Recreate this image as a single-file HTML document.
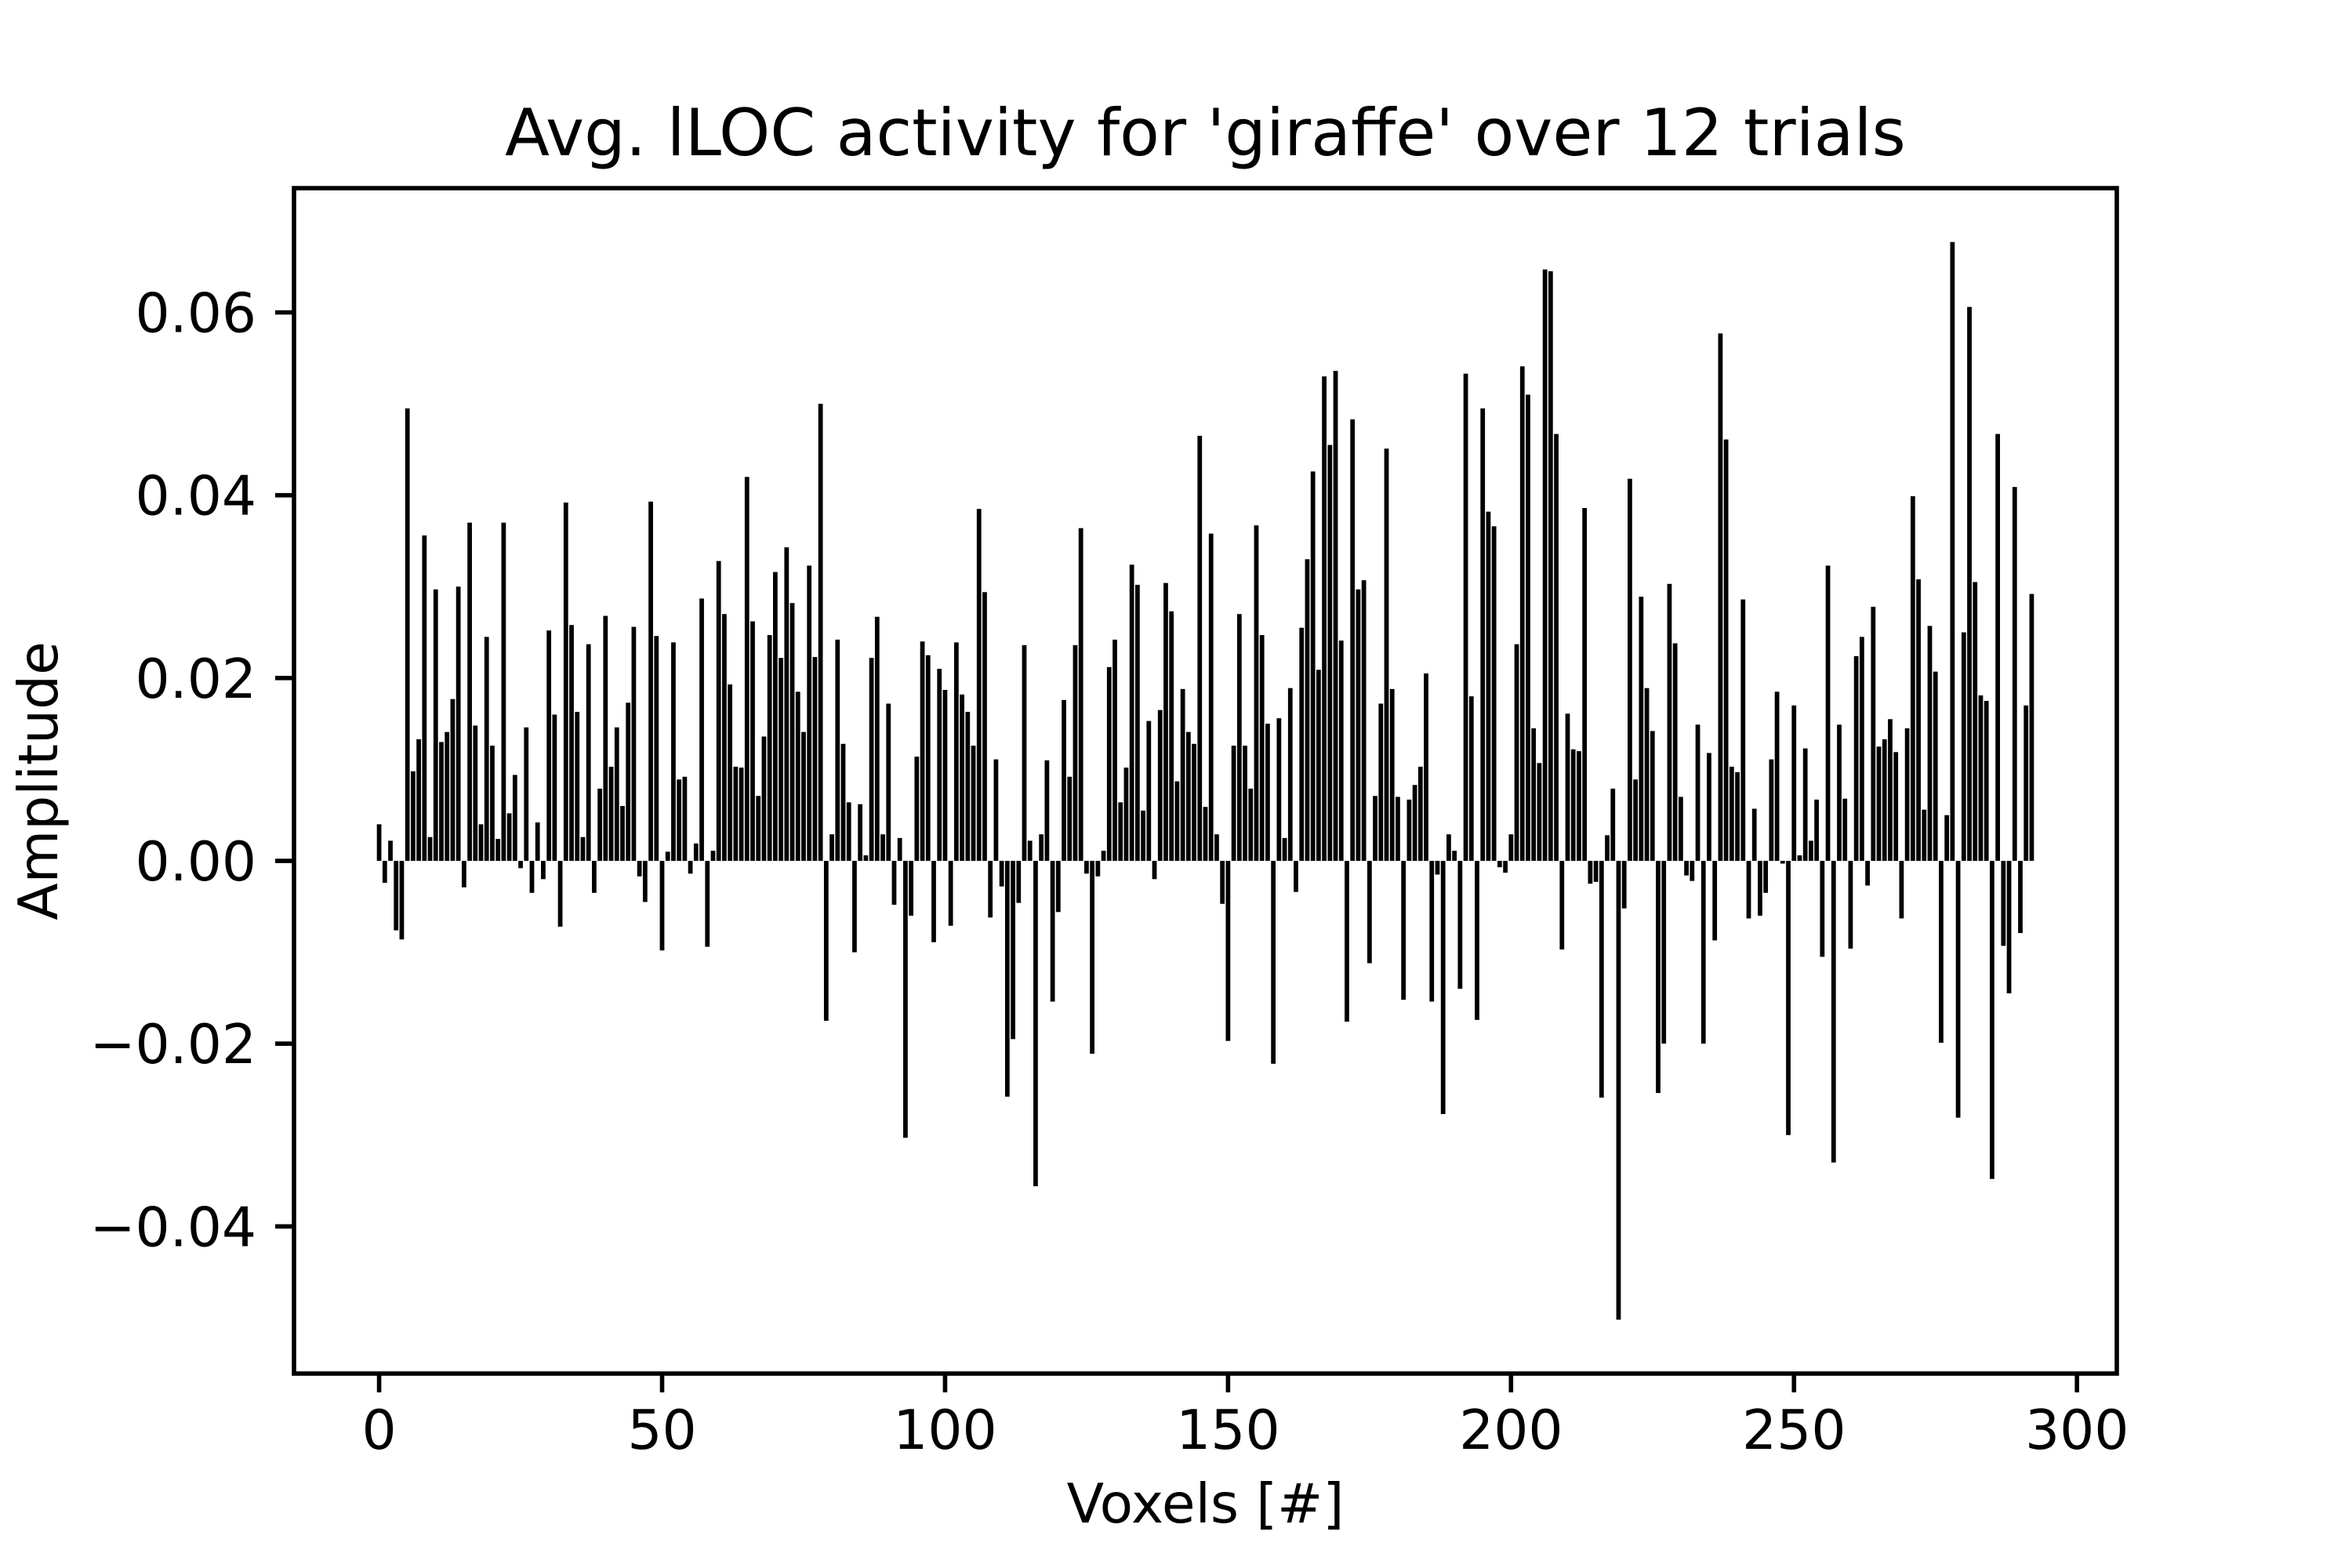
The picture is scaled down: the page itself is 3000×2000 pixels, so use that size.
<!DOCTYPE html>
<html><head><meta charset="utf-8"><style>
html,body{margin:0;padding:0;background:#fff;}
svg{display:block;font-family:"DejaVu Sans","Liberation Sans",sans-serif;}
</style></head><body>
<svg id="chart" width="3000" height="2000" viewBox="0 0 3000 2000" xmlns="http://www.w3.org/2000/svg">
<rect x="0" y="0" width="3000" height="2000" fill="#fff"/>
<text x="1537.5" y="198" font-size="83" text-anchor="middle">Avg. lLOC activity for 'giraffe' over 12 trials</text>
<g id="bars"></g>
<g id="xticks"></g>
<g id="yticks"></g>
<rect x="375" y="240" width="2325" height="1512" fill="none" stroke="#000" stroke-width="5.6"/>
<text x="1537.5" y="1942" font-size="69.4" text-anchor="middle">Voxels [#]</text>
<text x="0" y="0" font-size="69.4" text-anchor="middle" transform="translate(73,996) rotate(-90)">Amplitude</text>
</svg>
<script>
const amplitudes = [
0.0040,-0.0024,0.0022,-0.0076,-0.0086,0.0495,0.0098,0.0133,0.0356,0.0026,
0.0297,0.0130,0.0141,0.0177,0.0300,-0.0029,0.0370,0.0148,0.0040,0.0245,
0.0126,0.0024,0.0370,0.0052,0.0094,-0.0008,0.0146,-0.0035,0.0042,-0.0020,
0.0252,0.0160,-0.0072,0.0392,0.0258,0.0163,0.0026,0.0237,-0.0035,0.0079,
0.0268,0.0103,0.0146,0.0060,0.0173,0.0256,-0.0017,-0.0045,0.0393,0.0246,
-0.0098,0.0010,0.0239,0.0089,0.0092,-0.0014,0.0019,0.0287,-0.0094,0.0011,
0.0328,0.0270,0.0193,0.0103,0.0102,0.0420,0.0262,0.0071,0.0136,0.0247,
0.0316,0.0222,0.0343,0.0282,0.0185,0.0141,0.0323,0.0223,0.0500,-0.0175,
0.0029,0.0242,0.0128,0.0064,-0.0100,0.0062,0.0006,0.0222,0.0267,0.0029,
0.0172,-0.0048,0.0025,-0.0303,-0.0060,0.0114,0.0240,0.0225,-0.0089,0.0210,
0.0187,-0.0071,0.0239,0.0182,0.0163,0.0126,0.0385,0.0294,-0.0062,0.0111,
-0.0028,-0.0258,-0.0195,-0.0046,0.0236,0.0022,-0.0356,0.0029,0.0110,-0.0154,
-0.0056,0.0176,0.0092,0.0236,0.0364,-0.0014,-0.0211,-0.0017,0.0011,0.0212,
0.0242,0.0064,0.0102,0.0324,0.0302,0.0055,0.0153,-0.0020,0.0165,0.0304,
0.0273,0.0087,0.0188,0.0141,0.0128,0.0465,0.0059,0.0358,0.0029,-0.0047,
-0.0197,0.0126,0.0270,0.0126,0.0079,0.0367,0.0247,0.0150,-0.0222,0.0156,
0.0025,0.0189,-0.0034,0.0255,0.0330,0.0426,0.0209,0.0530,0.0455,0.0536,
0.0241,-0.0176,0.0483,0.0297,0.0307,-0.0112,0.0071,0.0172,0.0451,0.0188,
0.0070,-0.0152,0.0067,0.0083,0.0103,0.0205,-0.0154,-0.0015,-0.0277,0.0029,
0.0011,-0.0140,0.0533,0.0180,-0.0174,0.0495,0.0382,0.0366,-0.0007,-0.0013,
0.0029,0.0237,0.0541,0.0510,0.0145,0.0107,0.0647,0.0645,0.0467,-0.0097,
0.0161,0.0122,0.0120,0.0386,-0.0025,-0.0023,-0.0259,0.0028,0.0079,-0.0502,
-0.0052,0.0418,0.0089,0.0289,0.0189,0.0142,-0.0254,-0.0200,0.0303,0.0238,
0.0070,-0.0016,-0.0022,0.0149,-0.0200,0.0118,-0.0087,0.0577,0.0461,0.0103,
0.0097,0.0286,-0.0063,0.0057,-0.0060,-0.0035,0.0111,0.0185,-0.0003,-0.0300,
0.0170,0.0006,0.0123,0.0022,0.0067,-0.0105,0.0323,-0.0330,0.0149,0.0068,
-0.0096,0.0224,0.0245,-0.0027,0.0278,0.0125,0.0133,0.0155,0.0119,-0.0063,
0.0145,0.0399,0.0308,0.0056,0.0257,0.0207,-0.0199,0.0050,0.0677,-0.0281,
0.0250,0.0606,0.0305,0.0181,0.0175,-0.0348,0.0467,-0.0093,-0.0145,0.0409,
-0.0079,0.0170,0.0292
];
const xTickValues = [0, 50, 100, 150, 200, 250, 300];
const xTickLabels = ["0", "50", "100", "150", "200", "250", "300"];
const yTickValues = [-0.04, -0.02, 0.00, 0.02, 0.04, 0.06];
const yTickLabels = ["\u22120.04", "\u22120.02", "0.00", "0.02", "0.04", "0.06"];

const NS = "http://www.w3.org/2000/svg";
const AX = {l:375, r:2700, t:240, b:1752};
const n = amplitudes.length;
const xmin0 = -0.4, xmax0 = (n - 1) + 0.4;
const xm = (xmax0 - xmin0) * 0.05;
const xLo = xmin0 - xm, xHi = xmax0 + xm;
let dMin = Math.min(0, ...amplitudes), dMax = Math.max(0, ...amplitudes);
const ym = (dMax - dMin) * 0.05;
const yLo = dMin - ym, yHi = dMax + ym;
function xs(v){ return AX.l + (v - xLo) / (xHi - xLo) * (AX.r - AX.l); }
function ys(v){ return AX.b - (v - yLo) / (yHi - yLo) * (AX.b - AX.t); }

const barsG = document.getElementById('bars');
amplitudes.forEach((v, i) => {
  const r = document.createElementNS(NS, 'rect');
  const x0 = xs(i - 0.4), x1 = xs(i + 0.4);
  const y0 = ys(0), y1 = ys(v);
  r.setAttribute('x', x0);
  r.setAttribute('width', x1 - x0);
  r.setAttribute('y', Math.min(y0, y1));
  r.setAttribute('height', Math.abs(y1 - y0));
  r.setAttribute('fill', '#000');
  
  
  barsG.appendChild(r);
});

const xg = document.getElementById('xticks');
xTickValues.forEach((v, i) => {
  const x = xs(v);
  const l = document.createElementNS(NS, 'line');
  l.setAttribute('x1', x); l.setAttribute('x2', x);
  l.setAttribute('y1', AX.b); l.setAttribute('y2', AX.b + 24);
  l.setAttribute('stroke', '#000'); l.setAttribute('stroke-width', '5.6');
  
  
  xg.appendChild(l);
  const t = document.createElementNS(NS, 'text');
  t.setAttribute('x', x); t.setAttribute('y', 1848);
  t.setAttribute('font-size', '69.4'); t.setAttribute('text-anchor', 'middle');
  t.textContent = xTickLabels[i];
  
  
  xg.appendChild(t);
});

const yg = document.getElementById('yticks');
yTickValues.forEach((v, i) => {
  const y = ys(v);
  const l = document.createElementNS(NS, 'line');
  l.setAttribute('x1', AX.l - 24); l.setAttribute('x2', AX.l);
  l.setAttribute('y1', y); l.setAttribute('y2', y);
  l.setAttribute('stroke', '#000'); l.setAttribute('stroke-width', '5.6');
  
  
  yg.appendChild(l);
  const t = document.createElementNS(NS, 'text');
  t.setAttribute('x', AX.l - 48); t.setAttribute('y', y + 25);
  t.setAttribute('font-size', '69.4'); t.setAttribute('text-anchor', 'end');
  t.textContent = yTickLabels[i];
  
  
  yg.appendChild(t);
});
</script>
</body></html>
